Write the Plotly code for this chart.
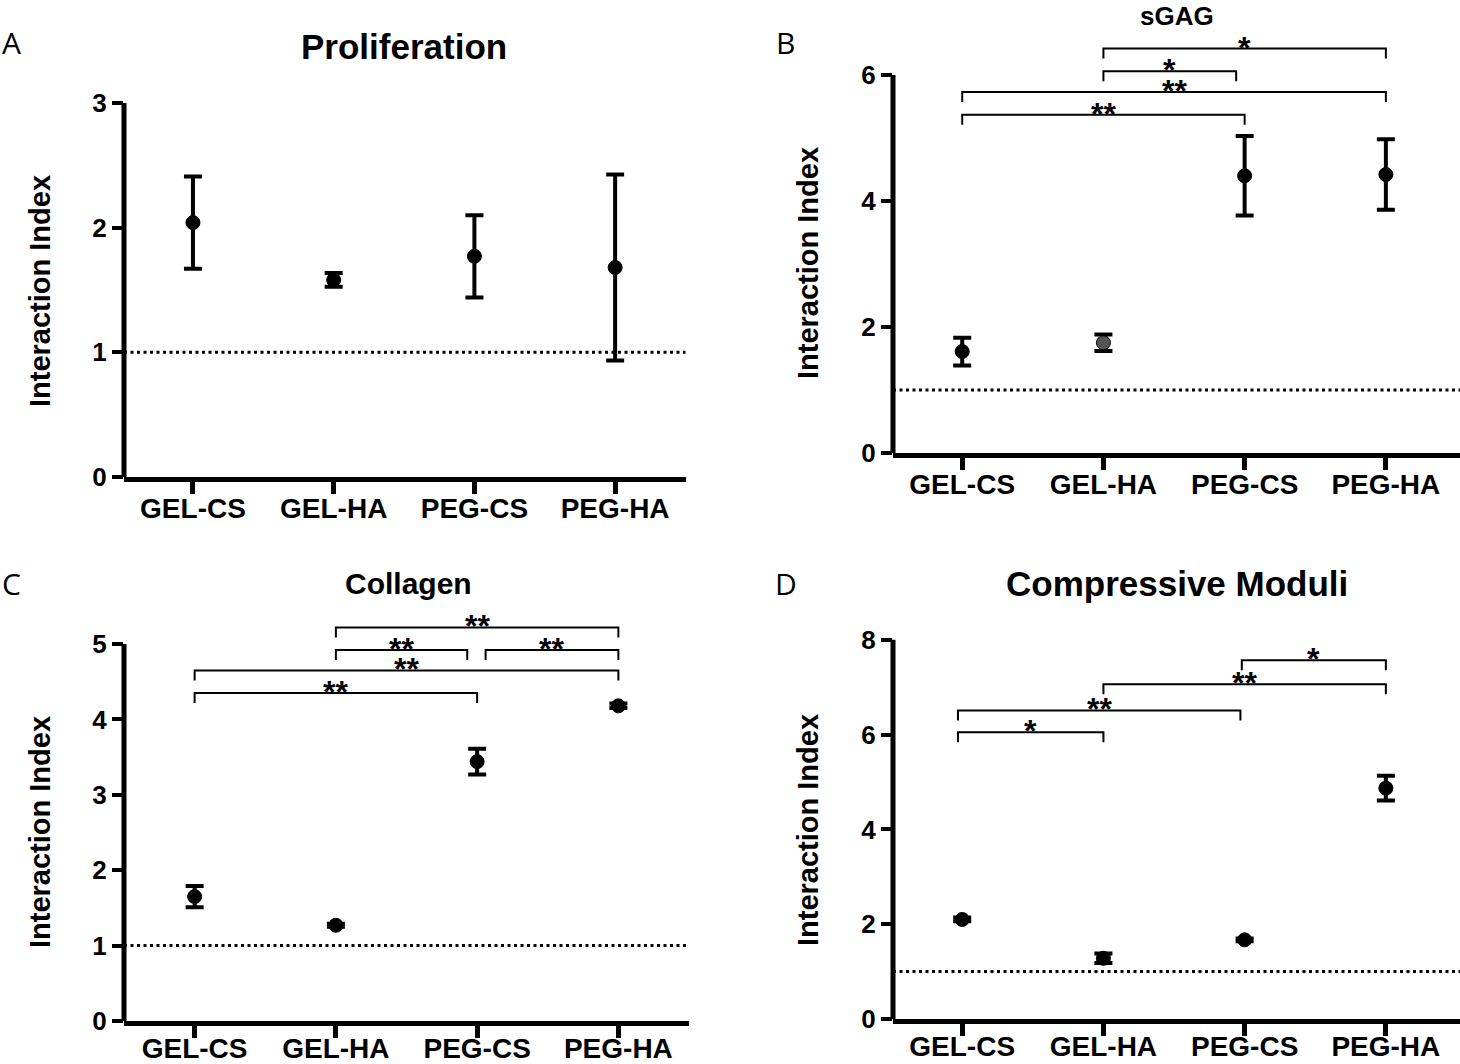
import plotly.graph_objects as go

W, H = 1460, 1064

# ---------------- data ----------------
categories = ["GEL-CS", "GEL-HA", "PEG-CS", "PEG-HA"]

prolif_mean = [2.04, 1.58, 1.77, 1.68]
prolif_err = [0.37, 0.055, 0.33, 0.745]

sgag_mean = [1.61, 1.75, 4.40, 4.42]
sgag_err = [0.22, 0.13, 0.63, 0.56]

collagen_mean = [1.65, 1.27, 3.44, 4.18]
collagen_err = [0.14, 0.02, 0.17, 0.03]

modulus_mean = [2.10, 1.28, 1.67, 4.87]
modulus_err = [0.04, 0.10, 0.03, 0.26]

yticks_A = [0, 1, 2, 3]
yticks_B = [0, 2, 4, 6]
yticks_C = [0, 1, 2, 3, 4, 5]
yticks_D = [0, 2, 4, 6, 8]

reference_level = 1

# significance brackets: (from, to, height, label)
sgag_brackets = [(1, 3, 6.42, "*"), (1, 1.94, 6.06, "*"),
                 (0, 3, 5.73, "**"), (0, 2, 5.37, "**")]
collagen_brackets = [(1, 3, 5.22, "**"), (1, 1.93, 4.92, "**"), (2.06, 3, 4.92, "**"),
                     (0, 3, 4.65, "**"), (0, 2, 4.35, "**")]
modulus_brackets = [(1.98, 3, 7.57, "*"), (1, 3, 7.06, "**"),
                    (-0.03, 1.97, 6.51, "**"), (-0.03, 1, 6.05, "*")]

# ---------------- layout geometry (pixels) ----------------
panels = [
    dict(key="A", title="Proliferation", tsize=35, tx=404, ty=46, lx=12, ly=42,
         ylabx=40, ylaby=291, mean=prolif_mean, err=prolif_err, yticks=yticks_A,
         brackets=[], xl=124, xr=685.5, xrange=[-0.49, 3.5], y0=477, ppu=124.7, ymax=3.05,
         colors=["black"] * 4, standoff=-10),
    dict(key="B", title="sGAG", tsize=26, tx=1177, ty=16, lx=786, ly=42,
         ylabx=808, ylaby=263, mean=sgag_mean, err=sgag_err, yticks=yticks_B,
         brackets=sgag_brackets, xl=893, xr=1460, xrange=[-0.49, 3.525], y0=453, ppu=63.0, ymax=6.6,
         colors=["black", "#555555", "black", "black"], standoff=-10),
    dict(key="C", title="Collagen", tsize=30, tx=408, ty=583, lx=12, ly=583,
         ylabx=40, ylaby=832, mean=collagen_mean, err=collagen_err, yticks=yticks_C,
         brackets=collagen_brackets, xl=124, xr=689, xrange=[-0.50, 3.5], y0=1021, ppu=75.4, ymax=5.4,
         colors=["black"] * 4, standoff=-14),
    dict(key="D", title="Compressive Moduli", tsize=35, tx=1177, ty=583, lx=786, ly=583,
         ylabx=808, ylaby=830, mean=modulus_mean, err=modulus_err, yticks=yticks_D,
         brackets=modulus_brackets, xl=893, xr=1460, xrange=[-0.49, 3.525], y0=1019, ppu=47.4, ymax=8.1,
         colors=["black"] * 4, standoff=-14),
]

BOLD = "Liberation Sans, Arial, Helvetica, sans-serif"
LIGHT = "Open Sans, Noto Sans, sans-serif"

fig = go.Figure()
annotations = []
shapes = []

for i, p in enumerate(panels):
    n = "" if i == 0 else str(i + 1)
    xa, ya = "x" + n, "y" + n
    xkey, ykey = "xaxis" + n, "yaxis" + n

    top_px = p["y0"] - p["ymax"] * p["ppu"]
    fig.update_layout({
        xkey: dict(domain=[p["xl"] / W, min(p["xr"] / W, 1.0)], range=p["xrange"], anchor=ya,
                   tickvals=list(range(len(categories))), ticktext=categories,
                   showline=True, linewidth=5, linecolor="black", showgrid=False, zeroline=False,
                   ticks="outside", ticklen=12, tickwidth=5, tickcolor="black",
                   ticklabelstandoff=p["standoff"],
                   tickfont=dict(family=BOLD, size=28, color="black", weight="bold"),
                   automargin=False, fixedrange=True),
        ykey: dict(domain=[1 - p["y0"] / H, 1 - top_px / H], range=[0, p["ymax"]], anchor=xa,
                   tickvals=p["yticks"], ticktext=[str(v) for v in p["yticks"]],
                   showline=False, showgrid=False, zeroline=False,
                   ticks="outside", ticklen=11, tickwidth=4, tickcolor="black",
                   tickfont=dict(family=BOLD, size=26, color="black", weight="bold"),
                   automargin=False, fixedrange=True),
    })

    # y axis line from 0 to top tick
    shapes.append(dict(type="line", xref=xa + " domain", yref=ya, x0=0, x1=0,
                       y0=0, y1=max(p["yticks"]), line=dict(color="black", width=5)))
    # dotted reference line
    shapes.append(dict(type="line", xref=xa + " domain", yref=ya, x0=0, x1=1,
                       y0=reference_level, y1=reference_level,
                       line=dict(color="black", width=3, dash="3px,3.5px"), layer="below"))

    # points with error bars
    fig.add_trace(go.Scatter(
        x=list(range(len(categories))), y=p["mean"], mode="markers", xaxis=xa, yaxis=ya,
        marker=dict(size=14, color=p["colors"], line=dict(width=1, color="black")),
        error_y=dict(type="data", array=p["err"], visible=True, color="black",
                     thickness=4, width=9),
        cliponaxis=False, showlegend=False, hoverinfo="skip"))

    # brackets
    drop = 10 / p["ppu"]
    for (a, b, h, lab) in p["brackets"]:
        fig.add_trace(go.Scatter(
            x=[a, a, b, b], y=[h - drop, h, h, h - drop], mode="lines", xaxis=xa, yaxis=ya,
            line=dict(color="black", width=2), showlegend=False, hoverinfo="skip"))
        annotations.append(dict(x=(a + b) / 2, y=h, xref=xa, yref=ya, text=lab,
                                showarrow=False, yanchor="middle", yshift=1,
                                font=dict(family=BOLD, size=32, color="black", weight="bold")))

    # title
    annotations.append(dict(x=p["tx"] / W, y=1 - p["ty"] / H, xref="paper", yref="paper",
                            text=p["title"], showarrow=False, xanchor="center", yanchor="middle",
                            font=dict(family=BOLD, size=p["tsize"], color="black", weight="bold")))
    # panel letter
    annotations.append(dict(x=p["lx"] / W, y=1 - p["ly"] / H, xref="paper", yref="paper",
                            text=p["key"], showarrow=False, xanchor="center", yanchor="middle",
                            font=dict(family=LIGHT, size=30, color="black")))
    # y-axis title
    annotations.append(dict(x=p["ylabx"] / W, y=1 - p["ylaby"] / H, xref="paper", yref="paper",
                            text="Interaction Index", showarrow=False, textangle=-90,
                            xanchor="center", yanchor="middle",
                            font=dict(family=BOLD, size=29, color="black", weight="bold")))

fig.update_layout(template="none", width=W, height=H, margin=dict(l=0, r=0, t=0, b=0, pad=0),
                  paper_bgcolor="white", plot_bgcolor="white", showlegend=False,
                  annotations=annotations, shapes=shapes)

post = ("document.documentElement.style.margin='0';document.body.style.margin='0';"
        "document.documentElement.style.overflow='hidden';document.body.style.overflow='hidden';")

fig.write_html("out.html", config={"displayModeBar": False}, post_script=post)
